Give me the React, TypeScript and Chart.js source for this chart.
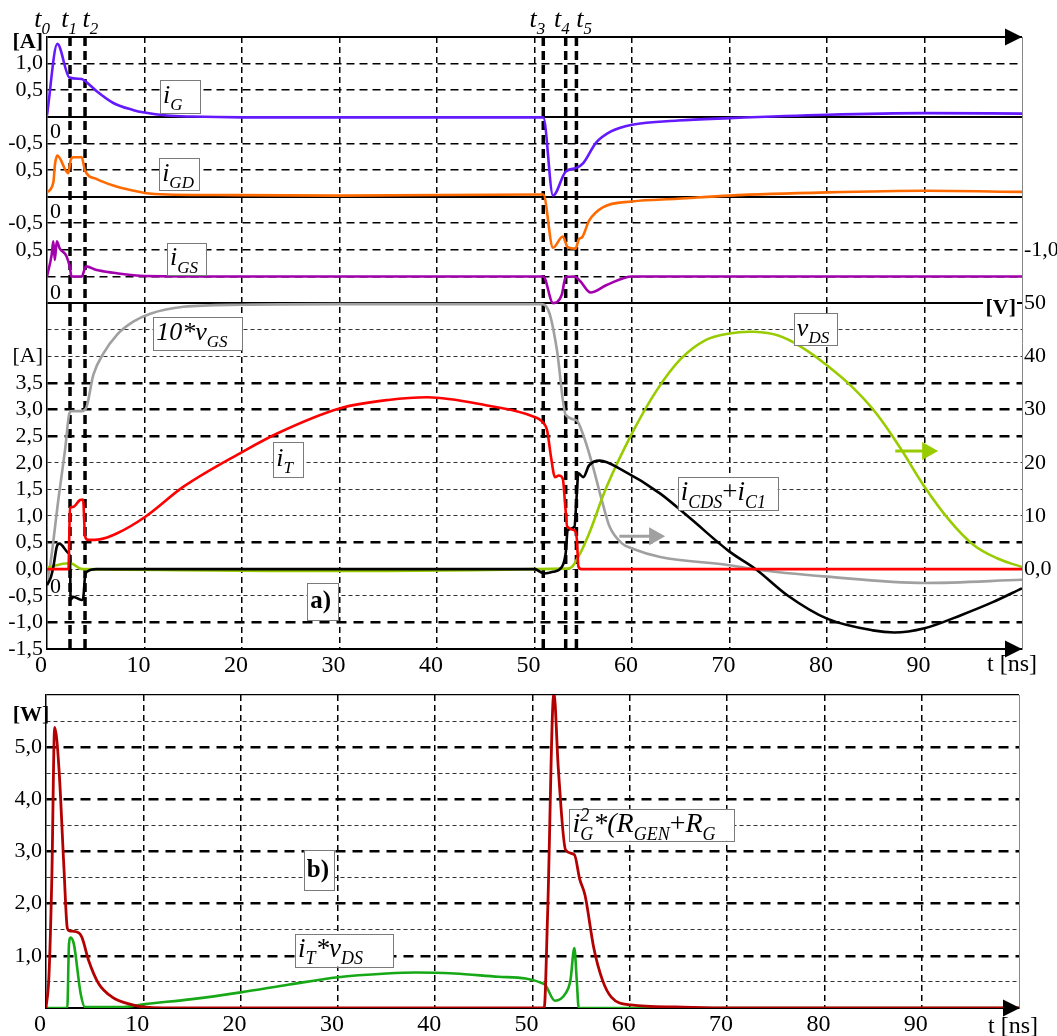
import { useEffect, useRef } from 'react';
import { Chart, registerables } from 'chart.js';

Chart.register(...registerables);

const SERIF = '"Liberation Serif", "Times New Roman", Times, serif';

// ---------------- panel a) data ----------------
const X_TICKS = [0, 10, 20, 30, 40, 50, 60, 70, 80, 90];

const iG_t = [0, 1.06, 2.3, 3.56, 4.0, 5.1, 6.8, 8.8, 10, 12.3, 14.8, 20, 30, 40, 50.9, 51.9, 53.2, 54.3, 55.0, 56.3, 57.8, 60, 64.7, 70, 80, 90, 100];
const iG_v = [0.03, 1.37, 0.74, 0.71, 0.66, 0.48, 0.26, 0.13, 0.08, 0.025, 0.005, -0.01, -0.01, -0.01, -0.01, -1.48, -1.03, -0.96, -0.87, -0.49, -0.28, -0.15, -0.07, -0.025, 0.04, 0.07, 0.06];

const iGD_t = [0, 0.65, 0.82, 1.06, 2.19, 2.43, 2.7, 3.56, 3.9, 5.1, 6.8, 8.9, 10, 12.3, 17.4, 30, 50.9, 51.9, 52.9, 53.4, 54.2, 54.55, 54.9, 55.6, 57.0, 60, 64.7, 70, 80, 90, 100];
const iGD_v = [0.08, 0.27, 0.61, 0.77, 0.44, 0.69, 0.74, 0.74, 0.49, 0.33, 0.21, 0.11, 0.07, 0.04, 0.03, 0.02, 0.04, -0.96, -0.75, -0.95, -0.98, -0.8, -0.76, -0.45, -0.2, -0.09, -0.04, 0.02, 0.08, 0.11, 0.09];

const iGS_t = [0, 0.48, 0.65, 0.8, 1.0, 1.3, 2.0, 2.36, 2.5, 3.56, 4.0, 5.1, 6.8, 10, 20, 50.9, 51.9, 52.8, 53.2, 54.1, 54.7, 55.75, 57.4, 60, 100];
const iGS_v = [0, 0.41, 0.66, 0.31, 0.66, 0.53, 0.38, 0.16, 0, 0, 0.19, 0.12, 0.07, 0.01, 0, 0, -0.5, -0.34, -0.01, 0, -0.09, -0.3, -0.16, 0, 0];

// 10*vGS in volts
const vGS10_t = [0, 0.3, 1.16, 1.85, 2.3, 2.53, 3.56, 4.0, 4.75, 5.77, 7.15, 8.85, 10.6, 14, 20, 30, 50.8, 51.55, 52.3, 53.2, 54.3, 55.0, 55.9, 57.0, 57.7, 59.0, 60, 62.9, 70, 72.5, 80, 90, 100];
const vGS10_v = [-2.4, 0.4, 13, 22.4, 29.3, 29.7, 29.7, 30.2, 36.5, 40.5, 44, 46.5, 48, 49.3, 49.7, 49.8, 49.8, 48, 41.2, 29, 28, 25.2, 19.9, 12.3, 8, 4.8, 3.9, 2.3, 0.75, 0, -1.4, -2.6, -2.0];

const iT_t = [0, 2.2, 2.36, 2.7, 3.38, 3.7, 3.9, 4.2, 5.4, 7.15, 10.05, 14, 20, 23.6, 30, 35, 39, 45, 50, 50.8, 51.3, 51.7, 52.1, 52.5, 52.9, 53.15, 53.35, 54.1, 54.35, 54.5, 54.8, 100];
const iT_v = [0, 0, 1.15, 1.17, 1.3, 1.31, 0.62, 0.55, 0.56, 0.67, 0.98, 1.55, 2.2, 2.55, 3.02, 3.18, 3.23, 3.08, 2.86, 2.77, 2.6, 2.1, 1.73, 1.76, 1.7, 1.2, 0.8, 0.73, 0.55, 0.05, 0, 0];

const iC_t = [0, 0.4, 0.65, 1.0, 1.27, 2.2, 2.36, 2.42, 2.7, 3.56, 3.7, 3.9, 4.1, 5.1, 50, 51.0, 51.9, 52.8, 53.2, 53.4, 54.1, 54.3, 54.5, 55.0, 55.6, 56.7, 59.0, 62.9, 66, 70, 72.7, 76, 80, 84.7, 86.9, 90, 93.8, 97, 100];
const iC_v = [-0.3, -0.15, 0.04, 0.42, 0.48, 0.3, 0.2, -0.57, -0.52, -0.58, -0.56, -0.14, -0.05, 0, 0, -0.08, -0.05, 0.04, 0.3, 0.73, 0.8, 1.3, 1.8, 1.73, 1.95, 2.04, 1.86, 1.42, 0.95, 0.33, 0, -0.5, -0.93, -1.15, -1.19, -1.11, -0.86, -0.62, -0.36];

// vDS in volts
const vDS_t = [0, 2.36, 3.7, 53.4, 54.3, 55.6, 57.4, 60, 62.5, 65, 67.5, 70, 72.5, 75, 77.5, 80, 82.5, 85, 87.5, 90, 92.5, 95, 97.5, 100];
const vDS_v = [0.3, 1.1, 0, 0.1, 1.7, 6.7, 15.5, 25.5, 33.5, 39.5, 43.0, 44.3, 44.6, 43.9, 41.6, 38.3, 34.4, 29.4, 22.8, 15.5, 9.3, 4.6, 2.0, 0.4];

// ---------------- panel b) data (W) ----------------
const pG_t = [0, 0.3, 0.6, 0.89, 1.33, 1.85, 2.19, 2.4, 3.38, 3.7, 4.4, 5.4, 6.8, 8.9, 10, 12, 51.2, 51.55, 52.2, 52.65, 53.4, 54.3, 54.85, 55.4, 56.3, 57.2, 58.1, 60.1, 64.7, 70, 100];
const pG_v = [0, 0.6, 2.5, 5.38, 4.6, 2.66, 1.53, 1.48, 1.44, 1.35, 0.9, 0.47, 0.21, 0.06, 0.02, 0, 0, 1.78, 6.05, 4.6, 3.03, 2.94, 2.47, 2.16, 1.15, 0.53, 0.21, 0.06, 0.02, 0, 0];

const pT_t = [0, 2.19, 2.36, 2.53, 2.87, 3.56, 4.0, 8, 10, 15, 20, 25, 30, 35, 38, 42, 46.5, 51.2, 52.3, 53.4, 53.9, 54.3, 54.55, 54.75, 100];
const pT_v = [0, 0, 1.22, 1.35, 1.22, 0.28, 0.02, 0.02, 0.07, 0.17, 0.3, 0.45, 0.59, 0.66, 0.68, 0.66, 0.6, 0.46, 0.14, 0.28, 0.53, 1.15, 0.53, 0, 0];

// ---------------- tick labels ----------------
const A_LEFT_VALS = [9.5, 9, 8, 7.5, 6.5, 6, 4, 3.5, 3, 2.5, 2, 1.5, 1, 0.5, 0, -0.5, -1, -1.5];
const A_LEFT_LABELS = ['1,0', '0,5', '-0,5', '0,5', '-0,5', '0,5', '[A]', '3,5', '3,0', '2,5', '2,0', '1,5', '1,0', '0,5', '0,0', '-0,5', '-1,0', '-1,5'];
const A_RIGHT_VALS = [60, 50, 40, 30, 20, 10, 0];
const A_RIGHT_LABELS = ['-1,0', '50', '40', '30', '20', '10', '0,0'];
const B_LEFT_VALS = [5, 4, 3, 2, 1];
const B_LEFT_LABELS = ['5,0', '4,0', '3,0', '2,0', '1,0'];

// time markers
const T_MARKS = [2.36, 3.9, 50.9, 53.2, 54.3];
const T_NAMES = ['0', '1', '2', '3', '4', '5'];
const T_NAME_POS = [-0.5, 2.26, 4.46, 50.3, 52.8, 55.1];

// ---------------- styles ----------------
const A_SOLID = [10, 8.5, 7, 5];
const A_STRIP = [9.5, 9, 8, 7.5, 6.5, 6, 5.5];
const A_THICK = [3.5, 3, 2.5, 0.5, -1];
const B_THICK = [5, 4, 3, 2, 1];

const near = (a: number, b: number) => Math.abs(a - b) < 1e-6;
const inSet = (arr: number[], v: number) => arr.some((a) => near(a, v));
const labelFor = (vals: number[], labels: string[], v: number) => {
  const i = vals.findIndex((a) => near(a, v));
  return i >= 0 ? labels[i] : '';
};

type GS = { w: number; d: number[]; c: string };
function gridA(v: number): GS {
  if (near(v, -1.5)) return { w: 0, d: [], c: '#000' };
  if (inSet(A_SOLID, v)) return { w: 2, d: [], c: '#000' };
  if (inSet(A_STRIP, v)) return { w: 1.6, d: [8, 5], c: '#000' };
  if (inSet(A_THICK, v)) return { w: 2.4, d: [10, 7], c: '#000' };
  return { w: 1, d: [4, 3], c: '#333' };
}
function gridB(v: number): GS {
  if (near(v, 0)) return { w: 0, d: [], c: '#000' };
  if (near(v, 6)) return { w: 1.2, d: [], c: '#000' };
  if (inSet(B_THICK, v)) return { w: 2.4, d: [10, 7], c: '#000' };
  return { w: 1, d: [4, 3], c: '#333' };
}

// ---------------- rich text helper ----------------
type Seg = { s: string; k?: 'sub' | 'sup' | 'back'; up?: boolean };
const fontOf = (size: number, italic: boolean, bold: boolean) =>
  `${italic ? 'italic ' : ''}${bold ? 'bold ' : ''}${size}px ${SERIF}`;

function drawSegs(ctx: CanvasRenderingContext2D, x: number, y: number, segs: Seg[], size: number, italic: boolean, bold: boolean) {
  let cx = x;
  let lastStart = x;
  const small = Math.round(size * 0.66);
  for (const g of segs) {
    const sz = g.k ? small : size;
    ctx.font = fontOf(sz, italic && !g.up, bold);
    const dx = g.k === 'back' ? lastStart : cx;
    const dy = g.k === 'sup' ? -size * 0.38 : g.k === 'sub' || g.k === 'back' ? size * 0.28 : 0;
    ctx.fillText(g.s, dx, y + dy);
    const w = ctx.measureText(g.s).width;
    if (g.k === 'back') cx = Math.max(cx, dx + w);
    else {
      lastStart = dx;
      cx = dx + w;
    }
  }
  return cx - x;
}

type Lab = { t: number; v: number; w: number; h: number; size: number; segs: Seg[]; bold?: boolean; pad?: number };

const LABELS_A: Lab[] = [
  { t: 11.6, v: 8.88, w: 40, h: 33, size: 26, segs: [{ s: 'i' }, { s: 'G', k: 'sub' }] },
  { t: 11.5, v: 7.42, w: 40, h: 32, size: 26, segs: [{ s: 'i' }, { s: 'GD', k: 'sub' }] },
  { t: 12.3, v: 5.83, w: 39, h: 32, size: 26, segs: [{ s: 'i' }, { s: 'GS', k: 'sub' }] },
  { t: 10.9, v: 4.43, w: 89, h: 33, size: 26, segs: [{ s: '10*v' }, { s: 'GS', k: 'sub' }] },
  { t: 23.2, v: 2.06, w: 30, h: 35, size: 26, segs: [{ s: 'i' }, { s: 'T', k: 'sub' }] },
  { t: 26.7, v: -0.61, w: 31, h: 37, size: 25, bold: true, segs: [{ s: 'a)' }] },
  { t: 76.6, v: 4.51, w: 43, h: 32, size: 26, segs: [{ s: 'v' }, { s: 'DS', k: 'sub' }] },
  { t: 64.7, v: 1.42, w: 100, h: 33, size: 27, segs: [{ s: 'i' }, { s: 'CDS', k: 'sub' }, { s: '+', up: true }, { s: 'i' }, { s: 'C1', k: 'sub' }] },
];

const LABELS_B: Lab[] = [
  { t: 26.5, v: 2.64, w: 30, h: 40, size: 25, bold: true, segs: [{ s: 'b)' }] },
  { t: 25.6, v: 1.11, w: 98, h: 33, size: 27, segs: [{ s: 'i' }, { s: 'T', k: 'sub' }, { s: '*v' }, { s: 'DS', k: 'sub' }] },
  { t: 53.8, v: 3.51, w: 165, h: 32, size: 28, segs: [{ s: 'i' }, { s: '2', k: 'sup' }, { s: 'G', k: 'back' }, { s: '*(R' }, { s: 'GEN', k: 'sub' }, { s: '+', up: true }, { s: 'R' }, { s: 'G', k: 'sub' }] },
];

// arrows: (t start, t end, value on V axis)
const ARROWS = [
  { t0: 58.7, t1: 63.4, v: 6.2, color: '#a0a0a0' },
  { t0: 87, t1: 91.4, v: 22.2, color: '#99cc00' },
];

const ZERO_LABEL_VALS = [8.21, 6.71, 5.19, -0.34];

function drawLabels(ctx: CanvasRenderingContext2D, xs: any, ys: any, labels: Lab[]) {
  for (const L of labels) {
    const x0 = xs.getPixelForValue(L.t);
    const yc = ys.getPixelForValue(L.v);
    ctx.fillStyle = '#fff';
    ctx.fillRect(x0, yc - L.h / 2, L.w, L.h);
    ctx.strokeStyle = '#7a7a7a';
    ctx.lineWidth = 1;
    ctx.setLineDash([]);
    ctx.strokeRect(Math.round(x0) + 0.5, Math.round(yc - L.h / 2) + 0.5, L.w, L.h);
    ctx.fillStyle = '#000';
    ctx.textAlign = 'left';
    ctx.textBaseline = 'alphabetic';
    drawSegs(ctx, x0 + (L.pad ?? 3), yc + L.size * 0.25, L.segs, L.size, !L.bold, !!L.bold);
  }
}

function axisArrow(ctx: CanvasRenderingContext2D, xTip: number, y: number) {
  ctx.fillStyle = '#000';
  ctx.beginPath();
  ctx.moveTo(xTip, y);
  ctx.lineTo(xTip - 17, y - 8.5);
  ctx.lineTo(xTip - 17, y + 8.5);
  ctx.closePath();
  ctx.fill();
}

function ds(label: string, t: number[], v: number[], color: string, axis: string, width = 2.6, smooth = false) {
  const base: any = {
    label,
    data: t.map((x, i) => ({ x, y: v[i] })),
    borderColor: color,
    backgroundColor: color,
    borderWidth: width,
    yAxisID: axis,
    pointRadius: 0,
    fill: false,
  };
  if (smooth) base.tension = 0.4;
  else base.cubicInterpolationMode = 'monotone';
  return base;
}

const tickFont = (size: number) => ({ family: SERIF, size, lineHeight: 1 });

const xScale = (height: number) => ({
  type: 'linear',
  min: 0,
  max: 100,
  ticks: {
    stepSize: 10,
    autoSkip: false,
    maxRotation: 0,
    labelOffset: -6,
    padding: 5,
    color: '#000',
    font: tickFont(24),
    callback: (v: number) => (X_TICKS.some((a) => near(a, v)) ? String(v) : ''),
  },
  grid: {
    drawTicks: false,
    color: '#000',
    lineWidth: (c: any) => (c.tick && c.tick.value > 0.5 && c.tick.value < 99.5 ? 1.5 : 0),
  },
  border: { display: true, color: '#000', width: 2, dash: [6, 4] },
  afterFit: (s: any) => {
    s.height = height;
  },
});

const plugA = {
  id: 'panelA',
  beforeDatasetsDraw(chart: any) {
    const { ctx, chartArea: ca, scales } = chart;
    ctx.save();
    ctx.strokeStyle = '#000';
    ctx.lineWidth = 3.5;
    ctx.setLineDash([9, 5]);
    for (const t of T_MARKS) {
      const x = scales.x.getPixelForValue(t);
      ctx.beginPath();
      ctx.moveTo(x, ca.top);
      ctx.lineTo(x, ca.bottom);
      ctx.stroke();
    }
    ctx.restore();
  },
  afterDraw(chart: any) {
    const { ctx, chartArea: ca, scales } = chart;
    const xs = scales.x;
    const ys = scales.y;
    const yv = scales.yV;
    ctx.save();
    for (const a of ARROWS) {
      const x0 = xs.getPixelForValue(a.t0);
      const x1 = xs.getPixelForValue(a.t1);
      const y = yv.getPixelForValue(a.v);
      ctx.strokeStyle = a.color;
      ctx.fillStyle = a.color;
      ctx.lineWidth = 3;
      ctx.beginPath();
      ctx.moveTo(x0, y);
      ctx.lineTo(x1 - 14, y);
      ctx.stroke();
      ctx.beginPath();
      ctx.moveTo(x1, y);
      ctx.lineTo(x1 - 16, y - 9);
      ctx.lineTo(x1 - 16, y + 9);
      ctx.closePath();
      ctx.fill();
    }
    drawLabels(ctx, xs, ys, LABELS_A);
    axisArrow(ctx, ca.right, ys.getPixelForValue(10));
    axisArrow(ctx, ca.right, ys.getPixelForValue(-1.5));
    ctx.fillStyle = '#000';
    ctx.font = `22px ${SERIF}`;
    ctx.textAlign = 'left';
    ctx.textBaseline = 'middle';
    for (const v of ZERO_LABEL_VALS) ctx.fillText('0', ca.left + 3, ys.getPixelForValue(v));
    ctx.font = `bold 22px ${SERIF}`;
    ctx.textAlign = 'right';
    ctx.fillText('[A]', ca.left - 4, ys.getPixelForValue(9.9));
    const vy = ys.getPixelForValue(4.9);
    ctx.fillStyle = '#fff';
    ctx.fillRect(ca.right - 39, vy - 11, 34, 22);
    ctx.fillStyle = '#000';
    ctx.fillText('[V]', ca.right - 6, vy);
    ctx.font = `24px ${SERIF}`;
    ctx.textAlign = 'left';
    ctx.fillText('t [ns]', ca.right - 35, ca.bottom + 16);
    ctx.textBaseline = 'alphabetic';
    T_NAMES.forEach((n, i) => {
      ctx.font = fontOf(26, true, false);
      const w1 = ctx.measureText('t').width;
      ctx.font = fontOf(17, true, false);
      const w2 = ctx.measureText(n).width;
      const cx = xs.getPixelForValue(T_NAME_POS[i]);
      drawSegs(ctx, cx - (w1 + w2) / 2, 27, [{ s: 't' }, { s: n, k: 'sub' }], 26, true, false);
    });
    ctx.restore();
  },
};

const plugB = {
  id: 'panelB',
  afterDraw(chart: any) {
    const { ctx, chartArea: ca, scales } = chart;
    const xs = scales.x;
    const ys = scales.yW;
    ctx.save();
    drawLabels(ctx, xs, ys, LABELS_B);
    axisArrow(ctx, ca.right + 1, ys.getPixelForValue(0));
    ctx.fillStyle = '#000';
    ctx.font = `bold 22px ${SERIF}`;
    ctx.textAlign = 'center';
    ctx.textBaseline = 'middle';
    ctx.fillText('[W]', 31, ys.getPixelForValue(5.62));
    ctx.font = `24px ${SERIF}`;
    ctx.textAlign = 'left';
    ctx.fillText('t [ns]', ca.right - 31, ca.bottom + 19);
    ctx.restore();
  },
};

function cfgA() {
  return {
    type: 'line',
    data: {
      datasets: [
        ds('iT', iT_t, iT_v, '#ff0000', 'y'),
        ds('iCDS+iC1', iC_t, iC_v, '#000000', 'y'),
        ds('vDS', vDS_t, vDS_v, '#99cc00', 'yV', 2.6, true),
        ds('10*vGS', vGS10_t, vGS10_v, '#a0a0a0', 'yV'),
        ds('iG', iG_t, iG_v, '#6419ff', 'yG'),
        ds('iGD', iGD_t, iGD_v, '#ff6a00', 'yGD'),
        ds('iGS', iGS_t, iGS_v, '#a300ad', 'yGS'),
      ],
    },
    options: {
      responsive: false,
      animation: false,
      events: [],
      layout: { padding: { top: 37, left: 0, right: 0, bottom: 0 } },
      plugins: { legend: { display: false }, tooltip: { enabled: false } },
      scales: {
        x: xScale(31),
        y: {
          position: 'left',
          min: -1.5,
          max: 10,
          ticks: {
            stepSize: 0.5,
            autoSkip: false,
            padding: 4,
            color: '#000',
            font: tickFont(22),
            callback: (v: number) => labelFor(A_LEFT_VALS, A_LEFT_LABELS, v),
          },
          grid: {
            drawTicks: false,
            color: (c: any) => (c.tick ? gridA(c.tick.value).c : '#000'),
            lineWidth: (c: any) => (c.tick ? gridA(c.tick.value).w : 0),
          },
          border: { display: true, color: '#000', width: 1.5, dash: (c: any) => (c.tick ? gridA(c.tick.value).d : []) },
          afterFit: (s: any) => {
            s.width = 47;
          },
        },
        yV: {
          position: 'right',
          min: -15,
          max: 100,
          ticks: {
            stepSize: 5,
            autoSkip: false,
            padding: 2,
            color: '#000',
            font: tickFont(22),
            callback: (v: number) => labelFor(A_RIGHT_VALS, A_RIGHT_LABELS, v),
          },
          grid: { display: false, drawTicks: false },
          border: { display: true, color: '#888', width: 1 },
          afterFit: (s: any) => {
            s.width = 35;
          },
        },
        yG: { display: false, min: -10, max: 1.5 },
        yGD: { display: false, min: -8.5, max: 3 },
        yGS: { display: false, min: -7, max: 4.5 },
      },
    },
    plugins: [plugA],
  };
}

function cfgB() {
  return {
    type: 'line',
    data: {
      datasets: [
        ds('iG^2*(RGEN+RG)', pG_t, pG_v, '#b30000', 'yW', 2.8),
        ds('iT*vDS', pT_t, pT_v, '#16a816', 'yW', 2.6),
      ],
    },
    options: {
      responsive: false,
      animation: false,
      events: [],
      layout: { padding: { top: 7, left: 0, right: 0, bottom: 0 } },
      plugins: { legend: { display: false }, tooltip: { enabled: false } },
      scales: {
        x: xScale(28),
        yW: {
          position: 'left',
          min: 0,
          max: 6,
          ticks: {
            stepSize: 0.5,
            autoSkip: false,
            padding: 4,
            color: '#000',
            font: tickFont(22),
            callback: (v: number) => labelFor(B_LEFT_VALS, B_LEFT_LABELS, v),
          },
          grid: {
            drawTicks: false,
            color: (c: any) => (c.tick ? gridB(c.tick.value).c : '#000'),
            lineWidth: (c: any) => (c.tick ? gridB(c.tick.value).w : 0),
          },
          border: { display: true, color: '#000', width: 1.5, dash: (c: any) => (c.tick ? gridB(c.tick.value).d : []) },
          afterFit: (s: any) => {
            s.width = 46;
          },
        },
        yR: {
          position: 'right',
          min: 0,
          max: 6,
          ticks: { display: false },
          grid: { display: false, drawTicks: false },
          border: { display: true, color: '#888', width: 1 },
          afterFit: (s: any) => {
            s.width = 38;
          },
        },
      },
    },
    plugins: [plugB],
  };
}

export default function App() {
  const refA = useRef<HTMLCanvasElement>(null);
  const refB = useRef<HTMLCanvasElement>(null);
  useEffect(() => {
    const a = new Chart(refA.current as HTMLCanvasElement, cfgA() as any);
    const b = new Chart(refB.current as HTMLCanvasElement, cfgB() as any);
    return () => {
      a.destroy();
      b.destroy();
    };
  }, []);
  return (
    <div style={{ position: 'absolute', left: 0, top: 0, width: 1057, height: 1036, background: '#fff' }}>
      <canvas ref={refA} width={1057} height={680} style={{ position: 'absolute', left: 0, top: 0, width: 1057, height: 680 }} />
      <canvas ref={refB} width={1057} height={356} style={{ position: 'absolute', left: 0, top: 680, width: 1057, height: 356 }} />
    </div>
  );
}
